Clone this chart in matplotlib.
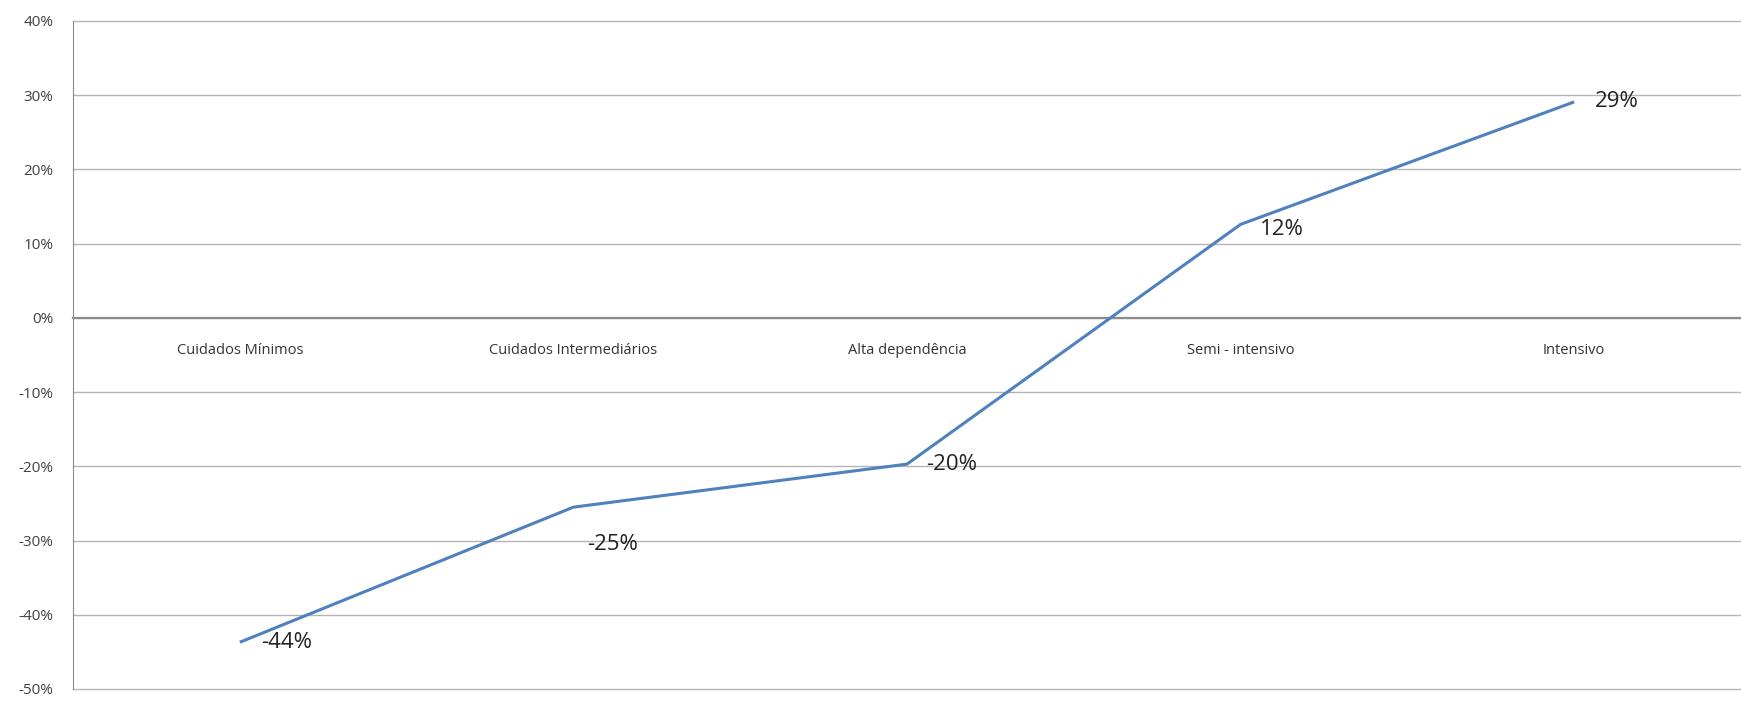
import matplotlib.pyplot as plt
from matplotlib.ticker import PercentFormatter

# Dados do gráfico
categorias = ['Cuidados Mínimos', 'Cuidados Intermediários', 'Alta dependência',
              'Semi - intensivo', 'Intensivo']
variacao = [-43.7, -25.5, -19.7, 12.6, 29.1]  # em %
rotulos = ['-44%', '-25%', '-20%', '12%', '29%']
desloc_rotulos = [(15, 0), (10, -27), (14, 0), (14, -4), (15, 0)]  # em pontos

plt.rcParams['font.family'] = ['Open Sans', 'DejaVu Sans']
plt.rcParams['axes.unicode_minus'] = False

fig = plt.figure(figsize=(17.41, 7.01), dpi=100)
ax = fig.add_axes([73 / 1741, 12 / 701, 1 - 73 / 1741, 668 / 701])

x = range(len(categorias))
ax.plot(x, variacao, color='#4F81BD', linewidth=2.2, solid_capstyle='butt', zorder=3)

for xi, v, txt, off in zip(x, variacao, rotulos, desloc_rotulos):
    ax.annotate(txt, (xi, v), xytext=off, textcoords='offset points',
                ha='left', va='center', fontsize=16, color='#222222')

# Eixo Y
ax.set_ylim(-50, 40)
ax.set_yticks(range(-50, 41, 10))
ax.yaxis.set_major_formatter(PercentFormatter(decimals=0))
ax.tick_params(axis='y', length=0, pad=14, labelsize=11, labelcolor='#404040')
ax.grid(axis='y', color='#B4B4B4', linewidth=1.0)
for linha in ax.get_ygridlines():
    linha.set_clip_on(False)
ax.set_axisbelow(True)

# Eixo X cruzando em 0
ax.set_xlim(-0.5, len(categorias) - 0.5)
ax.spines['bottom'].set_position(('data', 0))
ax.spines['bottom'].set_color('#8C8C8C')
ax.spines['bottom'].set_linewidth(1.6)
ax.set_xticks(list(x))
ax.set_xticklabels(categorias)
ax.tick_params(axis='x', length=0, pad=18, labelsize=10.5, labelcolor='#333333')

ax.spines['left'].set_color('#8C8C8C')
ax.spines['top'].set_visible(False)
ax.spines['right'].set_visible(False)

fig.savefig('out.png', dpi=100)
